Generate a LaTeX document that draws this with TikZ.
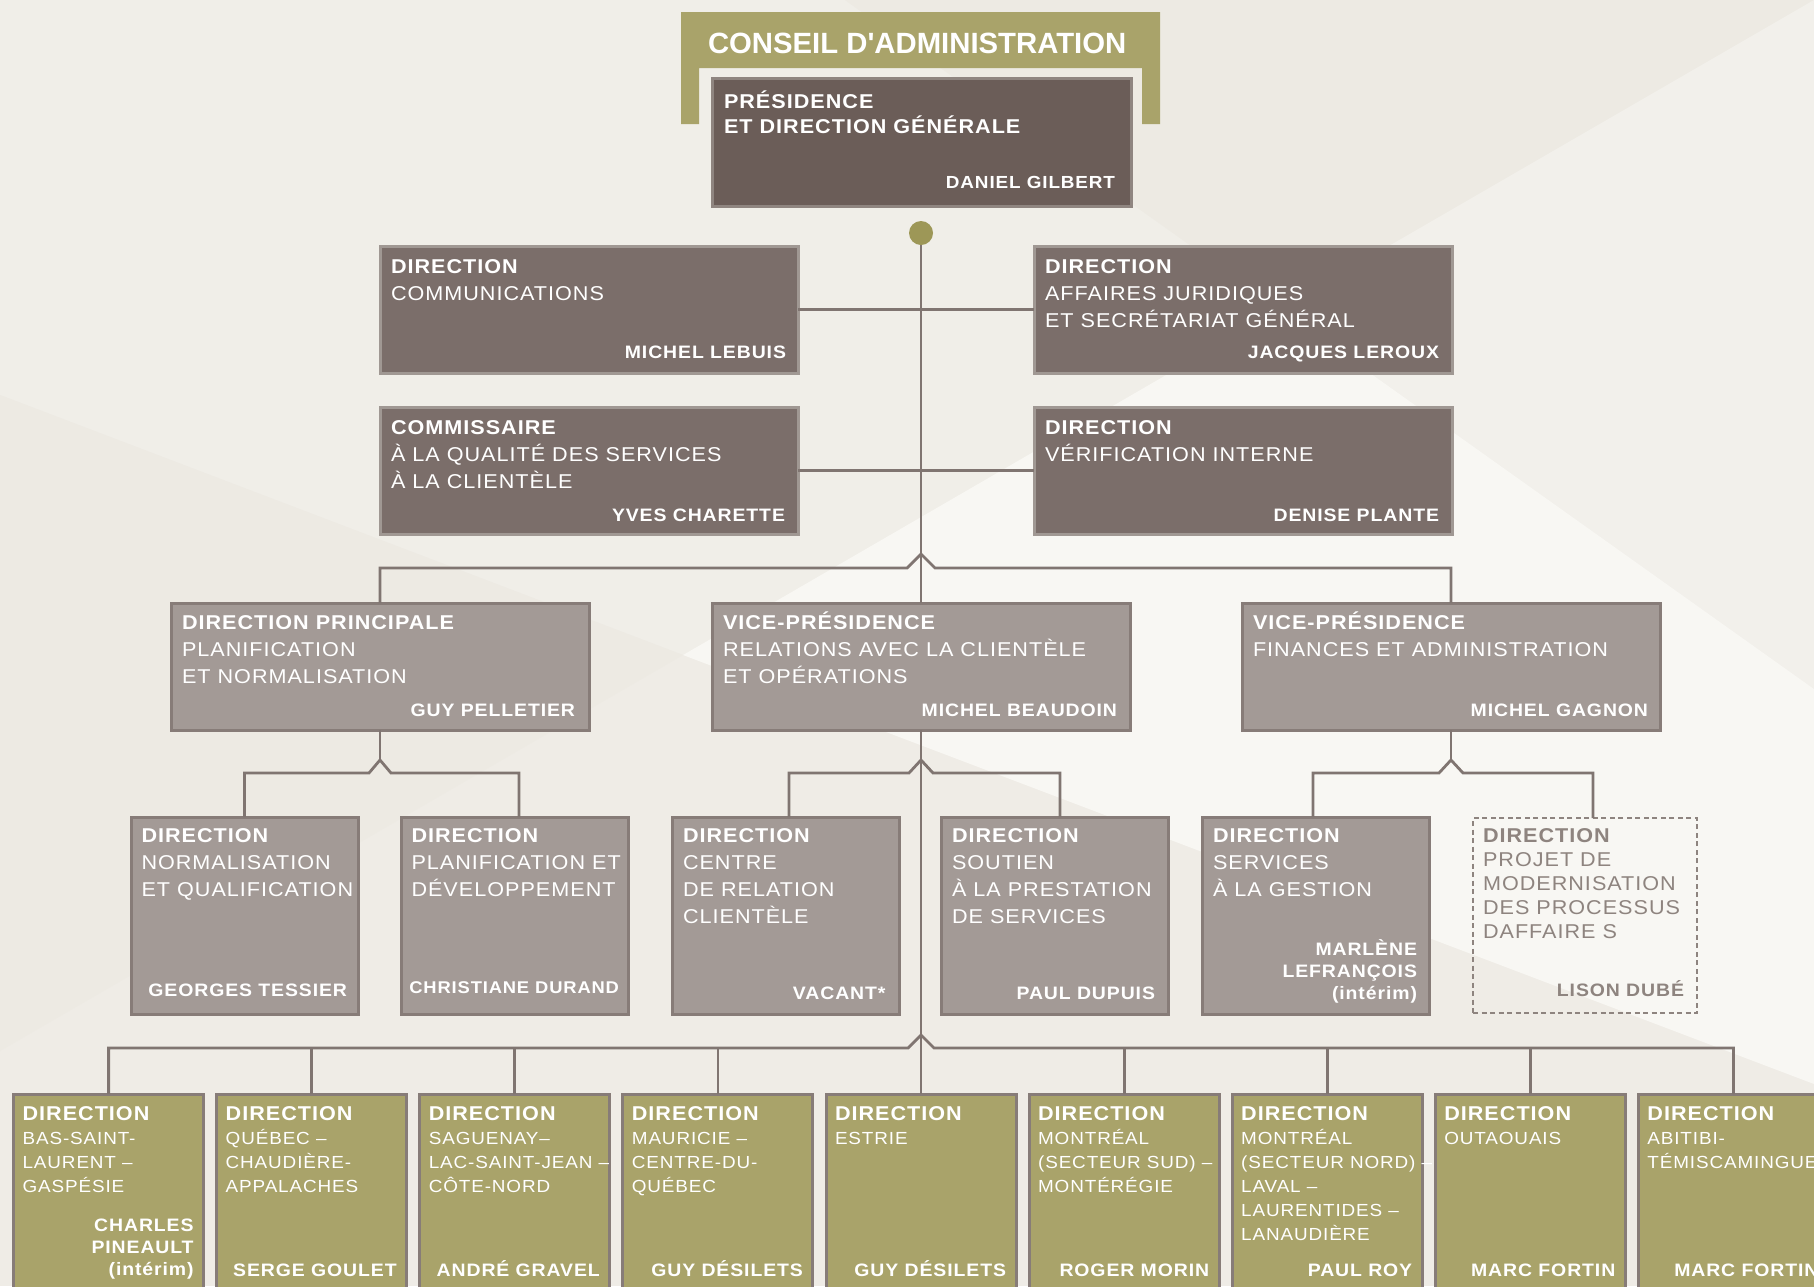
\documentclass[tikz,border=0pt]{standalone}
\usepackage{fontspec}
\setmainfont{Liberation Sans}[FakeStretch=1.08, LetterSpace=5]
\newfontfamily\titlefont{Liberation Sans}
\usetikzlibrary{calc}
\definecolor{bgA}{HTML}{F0EEE8}
\definecolor{bgB}{HTML}{EDEAE3}
\definecolor{bgC}{HTML}{F2F0EB}
\definecolor{bgD}{HTML}{F8F7F3}
\definecolor{bgE}{HTML}{EFECE6}
\definecolor{olive}{HTML}{A9A36A}
\definecolor{olivedot}{HTML}{9D9757}
\definecolor{presfill}{HTML}{6B5D58}
\definecolor{presline}{HTML}{8F8580}
\definecolor{lafill}{HTML}{7B6E6A}
\definecolor{laline}{HTML}{A09893}
\definecolor{lbfill}{HTML}{A39A96}
\definecolor{lbline}{HTML}{877C78}
\definecolor{linkcol}{HTML}{807571}
\definecolor{dashcol}{HTML}{8E847F}
\newcommand\mystrut{\rule{0pt}{24pt}}
\begin{document}
\begin{tikzpicture}[x=1pt,y=-1pt,
  every node/.style={inner sep=0pt, outer sep=0pt},
  pbox/.style={fill=presfill, draw=presline, line width=3pt, anchor=north west},
  abox/.style={fill=lafill, draw=laline, line width=3pt, anchor=north west, minimum width=418pt, minimum height=127pt},
  bbox/.style={fill=lbfill, draw=lbline, line width=3pt, anchor=north west},
  obox/.style={fill=olive, draw=lbline, line width=3pt, anchor=north west, minimum width=190pt, minimum height=215pt},
  dbox/.style={draw=dashcol, line width=2pt, dash pattern=on 5pt off 3.5pt, anchor=north west},
  ttl/.style={text=white, anchor=north west, align=left, font=\fontsize{20}{27}\selectfont},
  ottl/.style={text=white, anchor=north west, align=left, font=\fontsize{17.5}{24}\selectfont},
  nm/.style={text=white, anchor=base east, font=\bfseries\fontsize{18}{22}\selectfont},
  nmm/.style={text=white, anchor=north east, align=right, font=\bfseries\fontsize{18}{22}\selectfont},
  link/.style={draw=linkcol, line width=2.8pt},
]
\useasboundingbox (0,0) rectangle (1814,1286);
\clip (0,0) rectangle (1814,1286);
% background facets
\fill[bgE] (0,0) rectangle (1814,1286);
\fill[bgA] (0,0) -- (845,0) -- (1280,309) -- (683,655) -- (0,395) -- cycle;
\fill[bgB] (845,0) -- (1814,0) -- (1280,309) -- cycle;
\fill[bgC] (1814,0) -- (1814,689) -- (1280,309) -- cycle;
\fill[bgD] (1280,309) -- (1814,689) -- (1814,1084) -- (683,655) -- cycle;
\fill[bgB] (0,395) -- (683,655) -- (0,1051) -- cycle;

% conseil bracket
\fill[olive] (681,12) -- (1160,12) -- (1160,124) -- (1142,124) -- (1142,68) -- (699,68) -- (699,124) -- (681,124) -- cycle;
\node[text=white, anchor=base west, font=\titlefont\bfseries\fontsize{29.3}{31}\selectfont] (ca) at (708,53) {CONSEIL D\textquotesingle ADMINISTRATION};

% presidence
\node[pbox, minimum width=419pt, minimum height=128pt] (pres) at (712,78) {};
\node[ttl, font=\bfseries\fontsize{20}{25}\selectfont] (pres-t) at (724,108-24) {\mystrut PRÉSIDENCE\\ET DIRECTION GÉNÉRALE};
\node[nm, font=\bfseries\fontsize{17.5}{22}\selectfont] (pres-n) at (1115,188) {DANIEL GILBERT};

\node[circle, fill=olivedot, minimum size=24pt] (dot) at (921,233) {};

% level 1
\node[abox] (comm) at (380,246) {};
\node[abox] (jur) at (1034,246) {};
\node[abox] (comm2) at (380,407) {};
\node[abox] (verif) at (1034,407) {};

% level 2
\node[bbox, minimum width=418pt, minimum height=127pt] (dp) at (171,603) {};
\node[bbox, minimum width=418pt, minimum height=127pt] (vpr) at (712,603) {};
\node[bbox, minimum width=418pt, minimum height=127pt] (vpf) at (1242,603) {};

% level 3
\node[bbox, minimum width=227pt, minimum height=197pt] (norm) at (131,817) {};
\node[bbox, minimum width=227pt, minimum height=197pt] (plan) at (401.5,817) {};
\node[bbox, minimum width=227pt, minimum height=197pt] (centre) at (672.5,817) {};
\node[bbox, minimum width=227pt, minimum height=197pt] (soutien) at (941.5,817) {};
\node[bbox, minimum width=227pt, minimum height=197pt] (services) at (1202.5,817) {};
\node[dbox, minimum width=224pt, minimum height=195pt] (projet) at (1473,818) {};

% level 4
\node[obox] (b1) at (13.6,1094) {};
\node[obox] (b2) at (216.7,1094) {};
\node[obox] (b3) at (419.8,1094) {};
\node[obox] (b4) at (622.9,1094) {};
\node[obox] (b5) at (826,1094) {};
\node[obox] (b6) at (1029.1,1094) {};
\node[obox] (b7) at (1232.2,1094) {};
\node[obox] (b8) at (1435.3,1094) {};
\node[obox] (b9) at (1638.4,1094) {};

% connectors
\coordinate (pk0) at (921,554);
\coordinate (pk1) at (380,760);
\coordinate (pk2) at (921,760);
\coordinate (pk3) at (1451,760);
\coordinate (pk4) at (921,1035);
\draw[link] (dot) -- (vpr.north);
\draw[link] (vpr.south) -- (b5.north);
\draw[link] (comm.east) -- (jur.west);
\draw[link] (comm2.east) -- (verif.west);
\draw[link] (dp.north) |- ($(pk0)+(-14,14)$) -- (pk0) -- ($(pk0)+(14,14)$) -| (vpf.north);
\draw[link] (dp.south) -- (pk1);
\draw[link] (norm.north) |- ($(pk1)+(-11,13)$) -- (pk1) -- ($(pk1)+(11,13)$) -| ([xshift=4pt]plan.north);
\draw[link] ([xshift=3pt]centre.north) |- ($(pk2)+(-12,13)$) -- (pk2) -- ($(pk2)+(12,13)$) -| ([xshift=5pt]soutien.north);
\draw[link] (vpf.south) -- (pk3);
\draw[link] ([xshift=-3pt]services.north) |- ($(pk3)+(-12,13)$) -- (pk3) -- ($(pk3)+(12,13)$) -| ([xshift=8pt]projet.north);
\coordinate (busL) at ($(pk4)+(-13,13)$);
\draw[link] (b1.north) |- (busL) -- (pk4) -- ($(pk4)+(13,13)$) -| (b9.north);
\foreach \b in {b2,b3,b4,b6,b7,b8} \draw[link] (\b.north) -- (\b.north |- busL);

% level 1 texts
\node[ttl] (comm-t) at (391,273-24) {\mystrut\textbf{DIRECTION}\\COMMUNICATIONS};
\node[nm] (comm-n) at (786,358.7) {MICHEL LEBUIS};
\node[ttl] (jur-t) at (1045,273-24) {\mystrut\textbf{DIRECTION}\\AFFAIRES JURIDIQUES\\ET SECRÉTARIAT GÉNÉRAL};
\node[nm] (jur-n) at (1439,358.7) {JACQUES LEROUX};
\node[ttl] (comm2-t) at (391,434-24) {\mystrut\textbf{COMMISSAIRE}\\À LA QUALITÉ DES SERVICES\\À LA CLIENTÈLE};
\node[nm] (comm2-n) at (785,521) {YVES CHARETTE};
\node[ttl] (verif-t) at (1045,434-24) {\mystrut\textbf{DIRECTION}\\VÉRIFICATION INTERNE};
\node[nm] (verif-n) at (1439,521) {DENISE PLANTE};

% level 2 texts
\node[ttl] (dp-t) at (182,629.3-24) {\mystrut\textbf{DIRECTION PRINCIPALE}\\PLANIFICATION\\ET NORMALISATION};
\node[nm] (dp-n) at (575,716.7) {GUY PELLETIER};
\node[ttl] (vpr-t) at (723,629.3-24) {\mystrut\textbf{VICE-PRÉSIDENCE}\\RELATIONS AVEC LA CLIENTÈLE\\ET OPÉRATIONS};
\node[nm] (vpr-n) at (1117,716.7) {MICHEL BEAUDOIN};
\node[ttl] (vpf-t) at (1253,629.3-24) {\mystrut\textbf{VICE-PRÉSIDENCE}\\FINANCES ET ADMINISTRATION};
\node[nm] (vpf-n) at (1648,716.7) {MICHEL GAGNON};

% level 3 texts
\node[ttl] (norm-t) at (141.5,842.7-24) {\mystrut\textbf{DIRECTION}\\NORMALISATION\\ET QUALIFICATION};
\node[nm] (norm-n) at (347,996.7) {GEORGES TESSIER};
\node[ttl] (plan-t) at (411.5,842.7-24) {\mystrut\textbf{DIRECTION}\\PLANIFICATION ET\\DÉVELOPPEMENT};
\node[nm, font=\bfseries\fontsize{17}{22}\selectfont] (plan-n) at (619,993.3) {CHRISTIANE DURAND};
\node[ttl] (centre-t) at (683,842.7-24) {\mystrut\textbf{DIRECTION}\\CENTRE\\DE RELATION\\CLIENTÈLE};
\node[nm] (centre-n) at (885.5,999.3) {VACANT*};
\node[ttl] (soutien-t) at (952,842.7-24) {\mystrut\textbf{DIRECTION}\\SOUTIEN\\À LA PRESTATION\\DE SERVICES};
\node[nm] (soutien-n) at (1155,999.3) {PAUL DUPUIS};
\node[ttl] (services-t) at (1213,842.7-24) {\mystrut\textbf{DIRECTION}\\SERVICES\\À LA GESTION};
\node[nmm] (services-n) at (1417,955-24) {\mystrut MARLÈNE\\LEFRANÇOIS\\(intérim)};
\node[ttl, text=dashcol, font=\fontsize{20}{24}\selectfont] (projet-t) at (1483,842.7-24) {\mystrut\textbf{DIRECTION}\\PROJET DE\\MODERNISATION\\DES PROCESSUS\\DAFFAIRE S};
\node[nm, text=dashcol] (projet-n) at (1684,996) {LISON DUBÉ};

% level 4 texts
\node[ottl] (b1-t) at (22.6,1120-24) {\mystrut\textbf{\fontsize{20}{24}\selectfont DIRECTION}\\BAS-SAINT-\\LAURENT –\\GASPÉSIE};
\node[nmm] (b1-n) at (193.6,1231.7-24) {\mystrut CHARLES\\PINEAULT\\(intérim)};
\node[ottl] (b2-t) at (225.7,1120-24) {\mystrut\textbf{\fontsize{20}{24}\selectfont DIRECTION}\\QUÉBEC –\\CHAUDIÈRE-\\APPALACHES};
\node[nm] (b2-n) at (396.7,1276) {SERGE GOULET};
\node[ottl] (b3-t) at (428.8,1120-24) {\mystrut\textbf{\fontsize{20}{24}\selectfont DIRECTION}\\SAGUENAY–\\LAC-SAINT-JEAN –\\CÔTE-NORD};
\node[nm] (b3-n) at (599.8,1276) {ANDRÉ GRAVEL};
\node[ottl] (b4-t) at (631.9,1120-24) {\mystrut\textbf{\fontsize{20}{24}\selectfont DIRECTION}\\MAURICIE –\\CENTRE-DU-\\QUÉBEC};
\node[nm] (b4-n) at (802.9,1276) {GUY DÉSILETS};
\node[ottl] (b5-t) at (835,1120-24) {\mystrut\textbf{\fontsize{20}{24}\selectfont DIRECTION}\\ESTRIE};
\node[nm] (b5-n) at (1006,1276) {GUY DÉSILETS};
\node[ottl] (b6-t) at (1038.1,1120-24) {\mystrut\textbf{\fontsize{20}{24}\selectfont DIRECTION}\\MONTRÉAL\\(SECTEUR SUD) –\\MONTÉRÉGIE};
\node[nm] (b6-n) at (1209.1,1276) {ROGER MORIN};
\node[ottl] (b7-t) at (1241.2,1120-24) {\mystrut\textbf{\fontsize{20}{24}\selectfont DIRECTION}\\MONTRÉAL\\(SECTEUR NORD) –\\LAVAL –\\LAURENTIDES –\\LANAUDIÈRE};
\node[nm] (b7-n) at (1412.2,1276) {PAUL ROY};
\node[ottl] (b8-t) at (1444.3,1120-24) {\mystrut\textbf{\fontsize{20}{24}\selectfont DIRECTION}\\OUTAOUAIS};
\node[nm] (b8-n) at (1615.3,1276) {MARC FORTIN};
\node[ottl] (b9-t) at (1647.4,1120-24) {\mystrut\textbf{\fontsize{20}{24}\selectfont DIRECTION}\\ABITIBI-\\TÉMISCAMINGUE};
\node[nm] (b9-n) at (1818.4,1276) {MARC FORTIN};
\end{tikzpicture}
\end{document}
